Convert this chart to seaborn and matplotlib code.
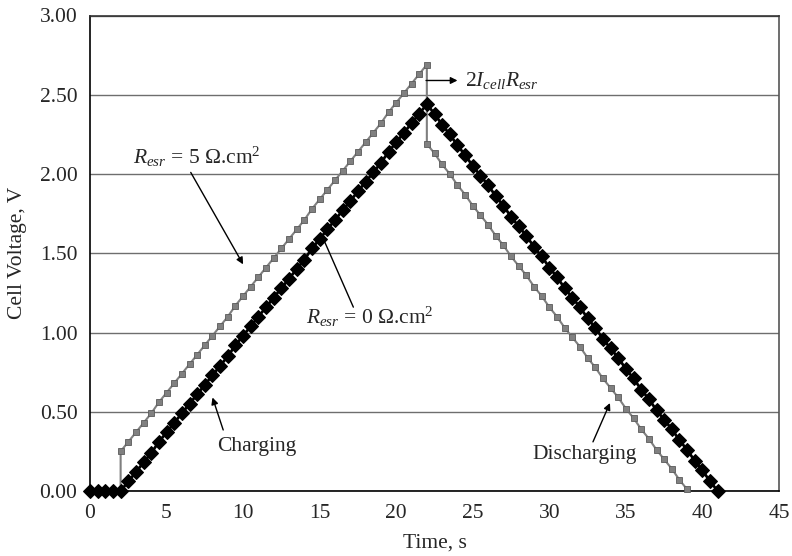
import matplotlib
matplotlib.use("Agg")
import matplotlib.pyplot as plt
import seaborn as sns
import pandas as pd

# ---- data ----
t_ideal = [0, 0.5, 1, 1.5, 2, 2.5, 3, 3.5, 4, 4.5, 5, 5.5, 6, 6.5, 7, 7.5, 8, 8.5, 9, 9.5,
           10, 10.5, 11, 11.5, 12, 12.5, 13, 13.5, 14, 14.5, 15, 15.5, 16, 16.5, 17, 17.5,
           18, 18.5, 19, 19.5, 20, 20.5, 21, 21.5, 22, 22.5, 23, 23.5, 24, 24.5, 25, 25.5,
           26, 26.5, 27, 27.5, 28, 28.5, 29, 29.5, 30, 30.5, 31, 31.5, 32, 32.5, 33, 33.5,
           34, 34.5, 35, 35.5, 36, 36.5, 37, 37.5, 38, 38.5, 39, 39.5, 40, 40.5, 41]
v_ideal = [0.00, 0.00, 0.00, 0.00, 0.00, 0.06, 0.12, 0.18, 0.24, 0.31, 0.37, 0.43, 0.49, 0.55,
           0.61, 0.67, 0.73, 0.79, 0.85, 0.92, 0.98, 1.04, 1.10, 1.16, 1.22, 1.28, 1.34, 1.40,
           1.46, 1.53, 1.59, 1.65, 1.71, 1.77, 1.83, 1.89, 1.95, 2.01, 2.07, 2.14, 2.20, 2.26,
           2.32, 2.38, 2.44, 2.38, 2.31, 2.25, 2.18, 2.12, 2.05, 1.99, 1.93, 1.86, 1.80, 1.73,
           1.67, 1.61, 1.54, 1.48, 1.41, 1.35, 1.28, 1.22, 1.16, 1.09, 1.03, 0.96, 0.90, 0.84,
           0.77, 0.71, 0.64, 0.58, 0.51, 0.45, 0.39, 0.32, 0.26, 0.19, 0.13, 0.06, 0.00]

t_esr = [0, 0.5, 1, 1.5, 2, 2, 2.5, 3, 3.5, 4, 4.5, 5, 5.5, 6, 6.5, 7, 7.5, 8, 8.5, 9, 9.5,
         10, 10.5, 11, 11.5, 12, 12.5, 13, 13.5, 14, 14.5, 15, 15.5, 16, 16.5, 17, 17.5,
         18, 18.5, 19, 19.5, 20, 20.5, 21, 21.5, 22, 22, 22.5, 23, 23.5, 24, 24.5, 25, 25.5,
         26, 26.5, 27, 27.5, 28, 28.5, 29, 29.5, 30, 30.5, 31, 31.5, 32, 32.5, 33, 33.5,
         34, 34.5, 35, 35.5, 36, 36.5, 37, 37.5, 38, 38.5, 39]
v_esr = [0.00, 0.00, 0.00, 0.00, 0.00, 0.25, 0.31, 0.37, 0.43, 0.49, 0.56, 0.62, 0.68, 0.74,
         0.80, 0.86, 0.92, 0.98, 1.04, 1.10, 1.17, 1.23, 1.29, 1.35, 1.41, 1.47, 1.53, 1.59,
         1.65, 1.71, 1.78, 1.84, 1.90, 1.96, 2.02, 2.08, 2.14, 2.20, 2.26, 2.32, 2.39, 2.45,
         2.51, 2.57, 2.63, 2.69, 2.19, 2.13, 2.06, 2.00, 1.93, 1.87, 1.80, 1.74, 1.68, 1.61,
         1.55, 1.48, 1.42, 1.36, 1.29, 1.23, 1.16, 1.10, 1.03, 0.97, 0.91, 0.84, 0.78, 0.71,
         0.65, 0.59, 0.52, 0.46, 0.39, 0.33, 0.26, 0.20, 0.14, 0.07, 0.01]

x_ticks = [0, 5, 10, 15, 20, 25, 30, 35, 40, 45]
y_ticks = [0.0, 0.5, 1.0, 1.5, 2.0, 2.5, 3.0]
x_label = "Time, s"
y_label = "Cell Voltage, V"

df_ideal = pd.DataFrame({"t": t_ideal, "v": v_ideal})
df_esr = pd.DataFrame({"t": t_esr, "v": v_esr})

# ---- style ----
sns.set_theme(style="white")
plt.rcParams["font.family"] = ["Liberation Serif", "DejaVu Serif"]
plt.rcParams["mathtext.fontset"] = "custom"
plt.rcParams["mathtext.rm"] = "Liberation Serif"
plt.rcParams["mathtext.it"] = "Liberation Serif:italic"

FS = 15.5
fig = plt.figure(figsize=(7.92, 5.56), dpi=100)
ax = fig.add_axes([90 / 792, 1 - 491 / 556, (779 - 90) / 792, (491 - 15.5) / 556])

sns.lineplot(data=df_esr, x="t", y="v", ax=ax, sort=False, estimator=None,
             color="#7f7f7f", lw=1.5, marker="s", markersize=4.2,
             markerfacecolor="#808080", markeredgecolor="#5a5a5a", markeredgewidth=0.6,
             clip_on=False, zorder=3)
sns.lineplot(data=df_ideal, x="t", y="v", ax=ax, sort=False, estimator=None,
             color="black", lw=2, marker="D", markersize=7.5,
             markerfacecolor="black", markeredgecolor="black",
             clip_on=False, zorder=4)

ax.set_xlim(0, 45)
ax.set_ylim(0, 3.0)
ax.set_xticks(x_ticks)
ax.set_yticks(y_ticks)
ax.set_xticklabels([str(v) for v in x_ticks], fontsize=FS)
ax.set_yticklabels([f"{v:.2f}" for v in y_ticks], fontsize=FS)
ax.tick_params(axis="both", direction="out", length=5, width=1, color="black", pad=4)
ax.yaxis.grid(True, color="#6e6e6e", lw=1.0)
ax.xaxis.grid(False)
ax.set_axisbelow(True)
for s in ax.spines.values():
    s.set_visible(True)
    s.set_color("black")
    s.set_linewidth(1.2)
ax.spines["right"].set_color("#555555")
ax.spines["top"].set_color("#333333")

ax.set_xlabel(x_label, fontsize=FS, labelpad=8)
ax.set_ylabel(y_label, fontsize=FS, labelpad=9)

arrow = dict(arrowstyle="-|>", color="black", lw=1.0, mutation_scale=10, shrinkA=0, shrinkB=0)

ax.text(7.0, 2.11, r"$R_{esr}$ = 5 $\Omega$.cm$^2$", fontsize=FS, ha="center", va="center")
ax.annotate("", xy=(10.0, 1.43), xytext=(6.58, 2.01), arrowprops=arrow)

ax.text(18.3, 1.10, r"$R_{esr}$ = 0 $\Omega$.cm$^2$", fontsize=FS, ha="center", va="center")
ax.annotate("", xy=(15.2, 1.60), xytext=(17.2, 1.16),
            arrowprops=dict(arrowstyle="-", color="black", lw=1.0, shrinkA=0, shrinkB=0))

ax.text(10.9, 0.28, "Charging", fontsize=FS, ha="center", va="center")
ax.annotate("", xy=(8.0, 0.59), xytext=(8.7, 0.385), arrowprops=arrow)

ax.text(32.3, 0.23, "Discharging", fontsize=FS, ha="center", va="center")
ax.annotate("", xy=(33.96, 0.555), xytext=(32.85, 0.31), arrowprops=arrow)

ax.annotate("", xy=(24.0, 2.59), xytext=(21.95, 2.59), arrowprops=arrow)
ax.text(24.5, 2.59, r"2$I_{cell}R_{esr}$", fontsize=FS, ha="left", va="center")

fig.savefig("out.png", dpi=100)
